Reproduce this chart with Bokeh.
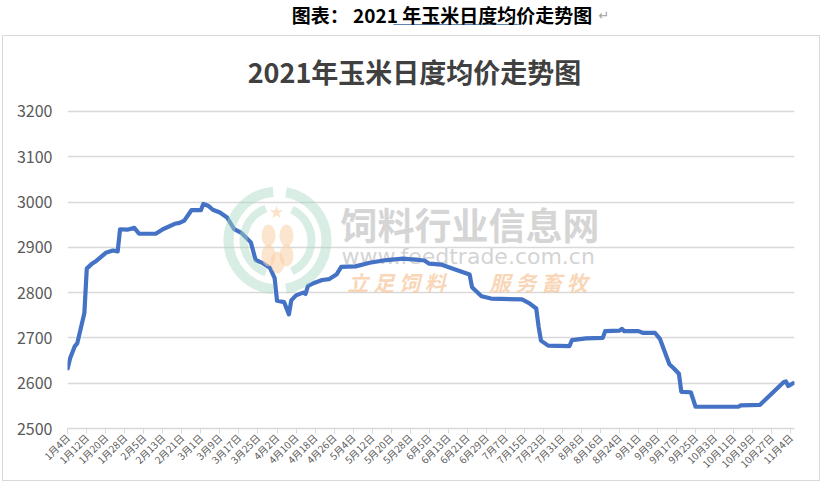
import math
import pandas as pd
from bokeh.plotting import figure
from bokeh.models import FixedTicker, Label, Range1d, InlineStyleSheet
from bokeh.embed import file_html
from bokeh.resources import INLINE

# ---------------- data ----------------
dates = ["2021-01-04", "2021-01-05", "2021-01-07", "2021-01-08", "2021-01-11", "2021-01-12",
         "2021-01-14", "2021-01-16", "2021-01-20", "2021-01-23", "2021-01-25", "2021-01-26",
         "2021-01-29", "2021-02-01", "2021-02-03", "2021-02-10", "2021-02-13", "2021-02-18",
         "2021-02-20", "2021-02-22", "2021-02-25", "2021-03-01", "2021-03-02", "2021-03-04",
         "2021-03-06", "2021-03-09", "2021-03-12", "2021-03-15", "2021-03-18", "2021-03-22",
         "2021-03-24", "2021-03-27", "2021-03-30", "2021-04-01", "2021-04-02", "2021-04-05",
         "2021-04-07", "2021-04-08", "2021-04-10", "2021-04-13", "2021-04-14", "2021-04-15",
         "2021-04-17", "2021-04-21", "2021-04-24", "2021-04-27", "2021-04-29", "2021-05-05",
         "2021-05-11", "2021-05-18", "2021-05-25", "2021-06-03", "2021-06-05", "2021-06-10",
         "2021-06-15", "2021-06-22", "2021-06-23", "2021-06-27", "2021-07-01", "2021-07-14",
         "2021-07-17", "2021-07-20", "2021-07-21", "2021-07-22", "2021-07-25", "2021-08-03",
         "2021-08-04", "2021-08-10", "2021-08-17", "2021-08-18", "2021-08-24", "2021-08-25",
         "2021-08-26", "2021-09-01", "2021-09-03", "2021-09-08", "2021-09-10", "2021-09-14",
         "2021-09-16", "2021-09-18", "2021-09-19", "2021-09-23", "2021-09-25", "2021-10-13",
         "2021-10-14", "2021-10-22", "2021-10-23", "2021-11-01", "2021-11-02", "2021-11-03",
         "2021-11-05"]
prices = [2633, 2655, 2682, 2688, 2755, 2853,
          2863, 2870, 2888, 2893, 2891, 2940,
          2939, 2943, 2930, 2930, 2940, 2952,
          2954, 2959, 2982, 2982, 2996, 2992,
          2983, 2977, 2966, 2940, 2932, 2911,
          2872, 2865, 2855, 2832, 2782, 2779,
          2752, 2783, 2794, 2800, 2797, 2815,
          2820, 2828, 2830, 2840, 2857, 2858,
          2866, 2872, 2875, 2871, 2864, 2862,
          2853, 2840, 2812, 2792, 2787, 2785,
          2777, 2765, 2725, 2694, 2683, 2682,
          2695, 2699, 2700, 2715, 2716, 2720,
          2715, 2715, 2711, 2711, 2698, 2642,
          2632, 2621, 2581, 2580, 2548, 2548,
          2551, 2552, 2557, 2602, 2604, 2594,
          2600]
tick_labels = ["1月4日", "1月12日", "1月20日", "1月28日", "2月5日", "2月13日", "2月21日",
               "3月1日", "3月9日", "3月17日", "3月25日", "4月2日", "4月10日", "4月18日",
               "4月26日", "5月4日", "5月12日", "5月20日", "5月28日", "6月5日", "6月13日",
               "6月21日", "6月29日", "7月7日", "7月15日", "7月23日", "7月31日", "8月8日",
               "8月16日", "8月24日", "9月1日", "9月9日", "9月17日", "9月25日", "10月3日",
               "10月11日", "10月19日", "10月27日", "11月4日"]
y_ticks = [2500, 2600, 2700, 2800, 2900, 3000, 3100, 3200]
label_step = 8  # days between category labels

chart_title = "2021年玉米日度均价走势图"
caption = "图表：  2021 年玉米日度均价走势图"

start = pd.Timestamp(dates[0])
days = [(pd.Timestamp(d) - start).days for d in dates]
tick_days = [i * label_step for i in range(len(tick_labels))]

# ---------------- layout ----------------
W, H = 823, 484
ML, MR, MT, MB = 67, 29, 0, 56
x0, x1 = -0.1, 305.6
y0, y1 = 2500, 3445.1
FONT = "Noto Sans CJK SC"

p = figure(width=W, height=H, x_range=Range1d(x0, x1), y_range=Range1d(y0, y1),
           output_backend="svg", toolbar_location=None,
           min_border_left=ML, min_border_right=MR, min_border_top=MT, min_border_bottom=MB)
p.outline_line_color = None
p.background_fill_color = "white"
p.border_fill_color = "white"

# light grey box drawn around the chart area (below the caption)
p.stylesheets = [InlineStyleSheet(css="""
:host { position: relative; }
:host::after {
  content: ""; position: absolute; left: 2px; top: 35px; width: 818px; height: 446px;
  border: 1.5px solid #D9D9D9; box-sizing: border-box; pointer-events: none;
}
""")]

fw, fh = W - ML - MR, H - MT - MB


def X(px):  # picture pixel -> data x
    return x0 + (px - ML) * (x1 - x0) / fw


def Y(py):  # picture pixel -> data y
    return y0 + (MT + fh - py) * (y1 - y0) / fh


# axes
p.yaxis.ticker = FixedTicker(ticks=y_ticks)
p.yaxis.axis_line_color = None
p.yaxis.major_tick_line_color = None
p.yaxis.minor_tick_line_color = None
p.yaxis.major_tick_out = 0
p.yaxis.major_tick_in = 0
p.yaxis.major_label_standoff = 15
p.yaxis.major_label_text_font = FONT
p.yaxis.major_label_text_font_size = "16px"
p.yaxis.major_label_text_color = "#595959"

p.xaxis.ticker = FixedTicker(ticks=tick_days)
p.xaxis.major_label_overrides = {d: lab for d, lab in zip(tick_days, tick_labels)}
p.xaxis.major_label_orientation = math.pi / 4
p.xaxis.major_label_text_font = FONT
p.xaxis.major_label_text_font_size = "10px"
p.xaxis.major_label_text_color = "#595959"
p.xaxis.major_label_standoff = 2
p.xaxis.axis_line_color = "#D9D9D9"
p.xaxis.axis_line_width = 1.5
p.xaxis.major_tick_line_color = "#D9D9D9"
p.xaxis.major_tick_out = 5
p.xaxis.major_tick_in = 0
p.xaxis.minor_tick_line_color = None

p.xgrid.visible = False
p.ygrid.grid_line_color = "#D9D9D9"
p.ygrid.grid_line_width = 1.5

# watermark text (behind the line)
p.add_layout(Label(x=X(340), y=Y(223), text="饲料行业信息网", text_font=FONT,
                   text_font_style="bold", text_font_size="37px", text_color="#C8C8C8",
                   text_alpha=0.75, text_baseline="middle", level="underlay"))
p.add_layout(Label(x=X(341), y=Y(256), text="www.feedtrade.com.cn", text_font="DejaVu Sans",
                   text_font_size="22px", text_color="#C8C8C8", text_alpha=0.8,
                   text_baseline="middle", level="underlay"))
p.add_layout(Label(x=X(347), y=Y(281), text="立 足 饲 料", text_font=FONT,
                   text_font_style="bold italic", text_font_size="21px", text_color="#F7C9A0",
                   text_alpha=0.75, text_baseline="middle", level="underlay"))
p.add_layout(Label(x=X(489), y=Y(281), text="服 务 畜 牧", text_font=FONT,
                   text_font_style="bold italic", text_font_size="21px", text_color="#F7C9A0",
                   text_alpha=0.75, text_baseline="middle", level="underlay"))

# price line
p.line(days, prices, line_color="#4472C4", line_width=4.2, line_join="round", line_cap="round")

# watermark logo (faint, over the line)
cx, cy = X(277), Y(240)


def ring(r_in, r_out, a0, a1):
    p.annular_wedge([cx], [cy], inner_radius=r_in, outer_radius=r_out,
                    inner_radius_units="screen", outer_radius_units="screen",
                    start_angle=math.radians(a0), end_angle=math.radians(a1),
                    fill_color="#A8D8C0", fill_alpha=0.45, line_color=None)


ring(44, 54, 95, 265)
ring(30, 38, 110, 250)
ring(44, 54, -80, 80)
ring(30, 38, -65, 65)
p.ellipse([X(268), X(286), X(268), X(286), X(277)], [Y(235), Y(235), Y(255), Y(255), Y(262)],
          width=14, height=22, width_units="screen", height_units="screen",
          fill_color="#F9CFA5", fill_alpha=0.55, line_color=None)
p.scatter([X(276)], [Y(212)], marker="star", size=14, fill_color="#F9CFA5", fill_alpha=0.6,
          line_color=None)

# chart title
p.add_layout(Label(x=X(414), y=Y(71), text=chart_title, text_font=FONT, text_font_style="bold",
                   text_font_size="27px", text_color="#404040", text_align="center",
                   text_baseline="middle"))

# document caption above the chart box
p.add_layout(Label(x=X(596), y=Y(14), text=caption, text_font=FONT, text_font_style="bold",
                   text_font_size="19px", text_color="#000000", text_align="right",
                   text_baseline="middle"))
p.add_layout(Label(x=X(598), y=Y(15), text="↵", text_font="DejaVu Sans",
                   text_font_size="13px", text_color="#A0A0A0", text_align="left",
                   text_baseline="middle"))
p.segment(x0=[X(393)], y0=[Y(24)], x1=[X(518)], y1=[Y(24)], line_color="#5B86B0",
          line_width=1.2)

open("out.html", "w").write(file_html(p, INLINE))
